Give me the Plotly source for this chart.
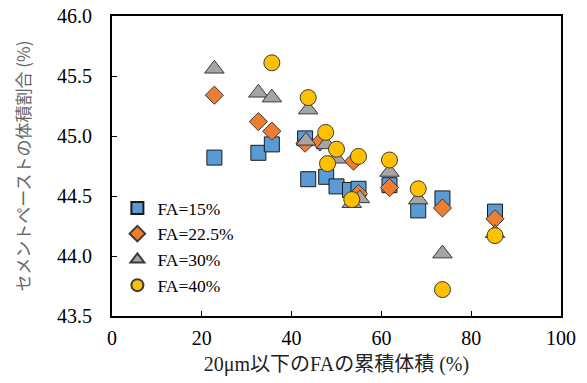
import plotly.graph_objects as go

# Cumulative volume of FA below 20 µm (%) vs. cement-paste volume fraction (%)
fa15_x = [22.8, 32.6, 35.6, 43.0, 43.7, 47.7, 50.0, 53.0, 54.9, 61.8, 68.2, 73.6, 85.3]
fa15_y = [44.82, 44.86, 44.93, 44.98, 44.64, 44.66, 44.58, 44.55, 44.56, 44.59, 44.38, 44.48, 44.37]

fa225_x = [22.8, 32.6, 35.6, 43.0, 46.3, 53.8, 54.9, 61.8, 73.6, 85.3]
fa225_y = [45.34, 45.12, 45.04, 44.94, 44.95, 44.79, 44.52, 44.57, 44.40, 44.31]

fa30_x = [22.8, 32.6, 35.6, 43.7, 43.2, 47.7, 50.0, 53.4, 55.2, 61.8, 68.2, 73.6, 85.3]
fa30_y = [45.56, 45.36, 45.32, 45.22, 44.96, 44.93, 44.81, 44.44, 44.48, 44.70, 44.47, 44.02, 44.19]

fa40_x = [35.6, 43.7, 47.6, 50.0, 48.0, 54.9, 53.4, 61.8, 68.2, 73.6, 85.3]
fa40_y = [45.61, 45.32, 45.03, 44.89, 44.77, 44.83, 44.47, 44.80, 44.56, 43.72, 44.17]

series = [
    ("FA=15%", fa15_x, fa15_y, "square", "#5B9BD5", 15, "#1a1a1a"),
    ("FA=22.5%", fa225_x, fa225_y, "diamond", "#ED7D31", 14, "#3a3a3a"),
    ("FA=30%", fa30_x, fa30_y, "triangle-up", "#A5A5A5", 17, "#3a3a3a"),
    ("FA=40%", fa40_x, fa40_y, "circle", "#FFC000", 16, "#3a3a3a"),
]

fig = go.Figure()
for name, xs, ys, sym, col, size, edge in series:
    fig.add_trace(go.Scatter(
        x=xs, y=ys, mode="markers", name=name,
        marker=dict(symbol=sym, color=col, size=size,
                    line=dict(color=edge, width=1)),
    ))

serif = "Liberation Serif, Times New Roman, serif"
axis_common = dict(
    showgrid=False, zeroline=False, automargin=False,
    showline=True, linecolor="black", linewidth=2, mirror=True,
    ticks="inside", ticklen=5, tickwidth=1.3, tickcolor="black",
    tickfont=dict(family=serif, size=20, color="black"),
)

fig.update_layout(
    width=587, height=383,
    margin=dict(l=112, r=26, t=16, b=67),
    paper_bgcolor="white", plot_bgcolor="white",
    xaxis=dict(range=[0, 100], dtick=20, ticklabelstandoff=3,
               title=dict(text="20μm以下のFAの累積体積 (%)", standoff=9,
                          font=dict(family="Liberation Serif, Noto Sans CJK JP", size=20, color="#222")),
               **axis_common),
    yaxis=dict(range=[43.5, 46.0], dtick=0.5, tickformat=".1f", ticklabelstandoff=14,
               title=dict(text="セメントペーストの体積割合 (%)", standoff=22,
                          font=dict(family="Noto Sans CJK JP", size=17, color="#666")),
               **axis_common),
    legend=dict(x=0.012, y=0.42, xanchor="left", yanchor="top",
                bgcolor="rgba(0,0,0,0)", tracegroupgap=0, itemwidth=30,
                itemsizing="constant",
                font=dict(family=serif, size=17.5, color="black")),
    showlegend=True,
)

fig.write_html("out.html")
